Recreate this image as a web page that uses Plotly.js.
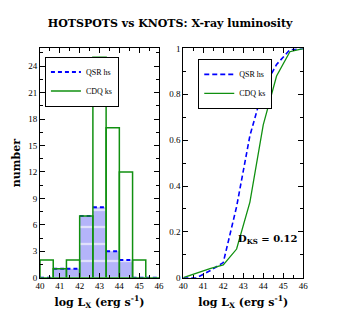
<!DOCTYPE html>
<html>
<head>
<meta charset="utf-8">
<script src="https://cdn.plot.ly/plotly-3.0.1.min.js"></script>
<style>
  html, body { margin: 0; padding: 0; background: #fff; }
  #chart { width: 343px; height: 327px; }
</style>
</head>
<body>
<div id="chart"></div>
<script>
// histogram bins (log Lx), 9 bins of width 2/3
var binEdges = [40, 40.667, 41.333, 42, 42.667, 43.333, 44, 44.667, 45.333, 46]
var qsrCounts = [0, 1, 1, 7, 8, 3, 2, 0, 0]
var cdqCounts = [2, 1, 2, 7, 25, 17, 12, 2, 0]

// cumulative distributions
var cdfX = [40, 40.667, 41.333, 42, 42.667, 43.333, 44, 44.667, 45.333, 46]
var qsrCdf = [0, 0, 0.03, 0.066, 0.31, 0.62, 0.825, 0.93, 0.995, 1]
var cdqCdf = [0, 0.02, 0.04, 0.056, 0.125, 0.33, 0.667, 0.88, 0.986, 1]

var blue = "#0000ff"
var green = "#109010"
var serif = "Liberation Serif"
var boldSerif = "DejaVu Serif"  // Liberation Serif has no bold face here

var centers = [], widths = []
for (var i = 0; i < qsrCounts.length; i++) {
  centers.push((binEdges[i] + binEdges[i + 1]) / 2)
  widths.push(binEdges[i + 1] - binEdges[i])
}

// dashed tops of the QSR bars
var qsrTopX = [], qsrTopY = []
for (var i = 0; i < qsrCounts.length; i++) {
  qsrTopX.push(binEdges[i], binEdges[i + 1], null)
  qsrTopY.push(qsrCounts[i], qsrCounts[i], null)
}

// green open boxes for CDQ
var cdqX = [], cdqY = []
for (var i = 0; i < cdqCounts.length; i++) {
  var l = binEdges[i], r = binEdges[i + 1], h = cdqCounts[i]
  cdqX.push(l, l, r, r, l, null)
  cdqY.push(0, h, h, 0, 0, null)
}

var qsrBars = {
  x: centers, y: qsrCounts, width: widths, type: "bar",
  xaxis: "x", yaxis: "y", showlegend: false, hoverinfo: "skip",
  marker: {
    color: "#b4b4fa",
    line: { width: 0 },
    pattern: { shape: "-", fgcolor: "#ffffff", bgcolor: "#b4b4fa", size: 17, solidity: 0.08 }
  }
}
var qsrTop = {
  x: qsrTopX, y: qsrTopY, type: "scatter", mode: "lines", name: "QSR hs",
  xaxis: "x", yaxis: "y", legend: "legend",
  line: { color: blue, width: 2, dash: "4px,3px" }
}
var cdqBox = {
  x: cdqX, y: cdqY, type: "scatter", mode: "lines", name: "CDQ ks",
  xaxis: "x", yaxis: "y", legend: "legend",
  line: { color: green, width: 1.5 }
}
var qsrLine = {
  x: cdfX, y: qsrCdf, type: "scatter", mode: "lines", name: "QSR hs",
  xaxis: "x2", yaxis: "y2", legend: "legend2",
  line: { color: blue, width: 1.6, dash: "5px,3px" }
}
var cdqLine = {
  x: cdfX, y: cdqCdf, type: "scatter", mode: "lines", name: "CDQ ks",
  xaxis: "x2", yaxis: "y2", legend: "legend2",
  line: { color: green, width: 1.3 }
}

function axis(extra) {
  var a = {
    showline: true, linecolor: "#000", linewidth: 1, mirror: "allticks",
    ticks: "inside", ticklen: 5, tickcolor: "#000", tickwidth: 1,
    showgrid: false, zeroline: false, fixedrange: true,
    tickfont: { family: serif, size: 9, color: "#000" }
  }
  for (var k in extra) a[k] = extra[k]
  return a
}

var titleFont = { family: boldSerif, size: 11, color: "#000", weight: "bold" }
var xTitle = "log L<sub>X</sub> (erg s<sup>-1</sup>)"
var legendStyle = {
  bgcolor: "#fff", bordercolor: "#000", borderwidth: 1,
  font: { family: serif, size: 8, color: "#000" },
  tracegroupgap: 0, itemwidth: 30
}

var layout = {
  width: 343, height: 327,
  margin: { l: 0, r: 0, t: 0, b: 0 },
  paper_bgcolor: "#fff", plot_bgcolor: "#fff",
  barmode: "overlay",
  title: {
    text: "HOTSPOTS vs KNOTS: X-ray luminosity",
    font: { family: boldSerif, size: 11, color: "#000", weight: "bold" },
    x: 0.496, xanchor: "center", y: 0.928, yanchor: "middle"
  },
  xaxis: axis({
    domain: [0.1166, 0.4636], range: [40, 46], dtick: 1, anchor: "y",
    minor: { ticks: "inside", ticklen: 3, tickcolor: "#000", dtick: 0.5 },
    title: { text: xTitle, font: titleFont, standoff: 7 }
  }),
  yaxis: axis({
    domain: [0.1508, 0.8517], range: [0, 26], dtick: 3, anchor: "x",
    minor: { ticks: "inside", ticklen: 3, tickcolor: "#000", dtick: 1.5 },
    title: { text: "number", font: titleFont, standoff: 5 }
  }),
  xaxis2: axis({
    domain: [0.5344, 0.884], range: [40, 46], dtick: 1, anchor: "y2",
    minor: { ticks: "inside", ticklen: 3, tickcolor: "#000", dtick: 0.5 },
    title: { text: xTitle, font: titleFont, standoff: 7 }
  }),
  yaxis2: axis({
    domain: [0.1508, 0.8517], range: [0, 1], dtick: 0.2, anchor: "x2",
    minor: { ticks: "inside", ticklen: 3, tickcolor: "#000", dtick: 0.1 }
  }),
  legend: Object.assign({ x: 0.131, y: 0.827, xanchor: "left", yanchor: "top" }, legendStyle),
  legend2: Object.assign({ x: 0.578, y: 0.82, xanchor: "left", yanchor: "top" }, legendStyle),
  annotations: [{
    xref: "x2", yref: "y2", x: 44.25, y: 0.165,
    text: "D<sub>KS</sub> = 0.12", showarrow: false,
    font: { family: boldSerif, size: 10, color: "#000", weight: "bold" }
  }]
}

Plotly.newPlot("chart", [qsrBars, qsrTop, cdqBox, qsrLine, cdqLine], layout, { displayModeBar: false, staticPlot: true })
</script>
</body>
</html>
